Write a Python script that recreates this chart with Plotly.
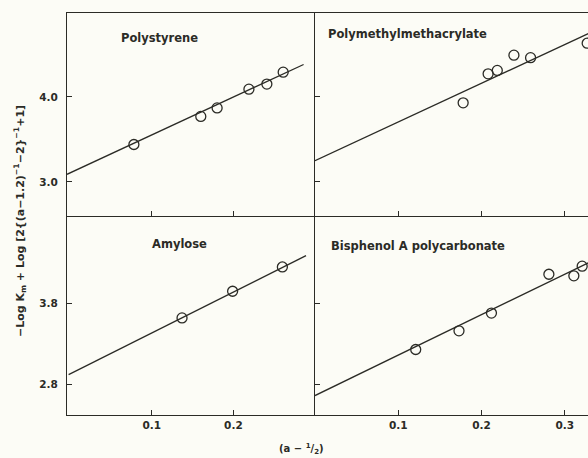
import plotly.graph_objects as go

# ---------------- data ----------------
ps_x = [0.078, 0.160, 0.180, 0.219, 0.241, 0.261]
ps_y = [3.44, 3.77, 3.87, 4.09, 4.15, 4.29]
ps_fit_x = [-0.004, 0.286]
ps_fit_y = [3.09, 4.38]

pmma_x = [0.178, 0.208, 0.219, 0.239, 0.259, 0.327]
pmma_y = [3.93, 4.27, 4.31, 4.49, 4.46, 4.63]
pmma_fit_x = [0.0, 0.330]
pmma_fit_y = [3.25, 4.75]

am_x = [0.137, 0.199, 0.260]
am_y = [3.62, 3.95, 4.25]
am_fit_x = [-0.002, 0.289]
am_fit_y = [2.92, 4.39]

bpa_x = [0.121, 0.173, 0.212, 0.281, 0.311, 0.321]
bpa_y = [3.23, 3.46, 3.68, 4.16, 4.14, 4.26]
bpa_fit_x = [0.0, 0.330]
bpa_fit_y = [2.66, 4.31]

panel_names = ["Polystyrene", "Polymethylmethacrylate", "Amylose", "Bisphenol A polycarbonate"]

left_xticks = [0.1, 0.2]
left_xlabels = ["0.1", "0.2"]
right_xticks = [0.1, 0.2, 0.3]
right_xlabels = ["0.1", "0.2", "0.3"]
top_yticks = [3.0, 4.0]
top_ylabels = ["3.0", "4.0"]
bot_yticks = [2.8, 3.8]
bot_ylabels = ["2.8", "3.8"]

# ---------------- styling ----------------
INK = "#2b2b26"
BG = "#fcfcf6"
FONT = "DejaVu Sans"

W, H = 588, 458
ml, mr, mt, mb = 67, 0, 13, 43
pw = W - ml - mr
ph = H - mt - mb
xsplit = (315 - ml) / pw
ysplit = (415 - 216) / ph

fig = go.Figure()

panels = [
    (ps_x, ps_y, ps_fit_x, ps_fit_y, "x", "y"),
    (pmma_x, pmma_y, pmma_fit_x, pmma_fit_y, "x2", "y2"),
    (am_x, am_y, am_fit_x, am_fit_y, "x3", "y3"),
    (bpa_x, bpa_y, bpa_fit_x, bpa_fit_y, "x4", "y4"),
]
for px, py, fx, fy, xa, ya in panels:
    fig.add_trace(go.Scatter(x=fx, y=fy, mode="lines", xaxis=xa, yaxis=ya,
                             line=dict(color=INK, width=1.3), showlegend=False,
                             hoverinfo="skip"))
    fig.add_trace(go.Scatter(x=px, y=py, mode="markers", xaxis=xa, yaxis=ya,
                             marker=dict(symbol="circle-open", size=10,
                                         color=INK, line=dict(width=1.3, color=INK)),
                             showlegend=False, cliponaxis=True))

tickfont = dict(family=FONT, size=10.5, color=INK, weight="bold")
common_x = dict(showgrid=False, zeroline=False, showline=True, linecolor=INK,
                linewidth=1.3, ticks="inside", ticklen=5, tickcolor=INK,
                tickwidth=1.3, tickfont=tickfont)
common_y = dict(showgrid=False, zeroline=False, showline=True, linecolor=INK,
                linewidth=1.3, ticks="inside", ticklen=5, tickcolor=INK,
                tickwidth=1.3, tickfont=tickfont, ticklabelstandoff=6)

left_xrange = [-0.004, 0.300]
right_xrange = [0.0, 0.328]
top_yrange = [2.6, 4.985]
bot_yrange = [2.42, 4.88]

fig.update_layout(
    width=W, height=H,
    margin=dict(l=ml, r=mr, t=mt, b=mb),
    paper_bgcolor=BG, plot_bgcolor=BG,
    xaxis=dict(common_x, domain=[0, xsplit], range=left_xrange, anchor="y",
               tickvals=left_xticks, showticklabels=False, mirror=True),
    yaxis=dict(common_y, domain=[ysplit, 1], range=top_yrange, anchor="x",
               tickvals=top_yticks, ticktext=top_ylabels, mirror=False),
    xaxis2=dict(common_x, domain=[xsplit, 1], range=right_xrange, anchor="y2",
                tickvals=right_xticks, showticklabels=False, mirror=True),
    yaxis2=dict(common_y, domain=[ysplit, 1], range=top_yrange, anchor="x2",
                tickvals=top_yticks, showticklabels=False, mirror=False),
    xaxis3=dict(common_x, domain=[0, xsplit], range=left_xrange, anchor="y3",
                tickvals=left_xticks, ticktext=left_xlabels, mirror=False),
    yaxis3=dict(common_y, domain=[0, ysplit], range=bot_yrange, anchor="x3",
                tickvals=bot_yticks, ticktext=bot_ylabels, mirror=False),
    xaxis4=dict(common_x, domain=[xsplit, 1], range=right_xrange, anchor="y4",
                tickvals=right_xticks, ticktext=right_xlabels, mirror=False),
    yaxis4=dict(common_y, domain=[0, ysplit], range=bot_yrange, anchor="x4",
                tickvals=bot_yticks, showticklabels=False, mirror=False),
)

def px2paper_x(p):
    return (p - ml) / pw

def px2paper_y(p):
    return (H - mb - p) / ph

label_font = dict(family=FONT, size=11.5, color=INK, weight="bold")
label_pos = [(119, 38), (326, 34), (150, 244), (329, 246)]
for name, (lx, ly) in zip(panel_names, label_pos):
    fig.add_annotation(text=name, xref="paper", yref="paper",
                       x=px2paper_x(lx), y=px2paper_y(ly), xanchor="left", yanchor="middle",
                       showarrow=False, font=label_font)

# axis titles
fig.add_annotation(text="−Log K<sub>m</sub> + Log [2{(a−1.2)<sup>−1</sup>−2}<sup>−1</sup>+1]",
                   xref="paper", yref="paper", x=px2paper_x(20), y=px2paper_y(221),
                   xanchor="center", yanchor="middle", textangle=-90, showarrow=False,
                   font=dict(family=FONT, size=11, color=INK, weight="bold"))
fig.add_annotation(text="(a − <sup>1</sup>/<sub>2</sub>)",
                   xref="paper", yref="paper", x=px2paper_x(301), y=px2paper_y(449),
                   xanchor="center", yanchor="middle", showarrow=False,
                   font=dict(family=FONT, size=10, color=INK, weight="bold"))

fig.write_html("out.html")
